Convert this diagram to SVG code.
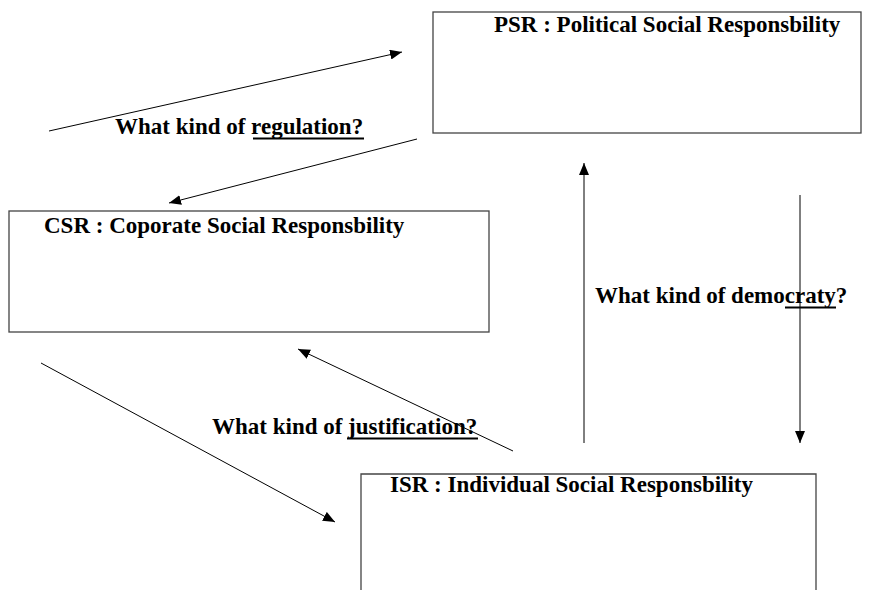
<svg xmlns="http://www.w3.org/2000/svg" width="884" height="590" viewBox="0 0 884 590">
  <style>
    .box { fill: #ffffff; stroke: #444444; stroke-width: 1.3; }
    .t { font-family: "Liberation Serif", "Times New Roman", serif; font-weight: bold; font-size: 23px; fill: #000000; }
    .ul { stroke: #000000; stroke-width: 2; }
    .c { stroke: #000000; stroke-width: 1; fill: none; marker-end: url(#ah); }
  </style>
  <defs>
    <marker id="ah" markerUnits="userSpaceOnUse" markerWidth="13" markerHeight="10" refX="12" refY="5" orient="auto">
      <path d="M0,0 L12,5 L0,10 z" fill="#000000"/>
    </marker>
  </defs>
  <rect width="884" height="590" fill="#ffffff"/>

  <g id="psr">
    <rect class="box" x="433" y="12" width="428" height="121"/>
    <text class="t" x="494" y="32">PSR : Political Social Responsbility</text>
  </g>
  <g id="csr">
    <rect class="box" x="9" y="211" width="480" height="121"/>
    <text class="t" x="44" y="233">CSR : Coporate Social Responsbility</text>
  </g>
  <g id="isr">
    <path class="box" d="M361,592 L361,474 L816,474 L816,592"/>
    <text class="t" x="390" y="492">ISR : Individual Social Responsbility</text>
  </g>

  <g id="labels">
    <text class="t" x="115" y="134">What kind of regulation?</text>
    <line class="ul" x1="253" y1="138.5" x2="364" y2="138.5"/>
    <text class="t" x="595" y="303">What kind of democraty?</text>
    <line class="ul" x1="785" y1="307.5" x2="836" y2="307.5"/>
    <text class="t" x="212" y="434">What kind of justification?</text>
    <line class="ul" x1="347" y1="438.5" x2="478" y2="438.5"/>
  </g>

  <g id="connectors">
    <line class="c" x1="49" y1="131" x2="402" y2="52"/>
    <line class="c" x1="417" y1="139" x2="169" y2="203"/>
    <line class="c" x1="41" y1="363" x2="335" y2="522"/>
    <line class="c" x1="513" y1="451" x2="298" y2="349"/>
    <line class="c" x1="584" y1="443" x2="584" y2="163"/>
    <line class="c" x1="800" y1="195" x2="800" y2="443"/>
  </g>
</svg>
